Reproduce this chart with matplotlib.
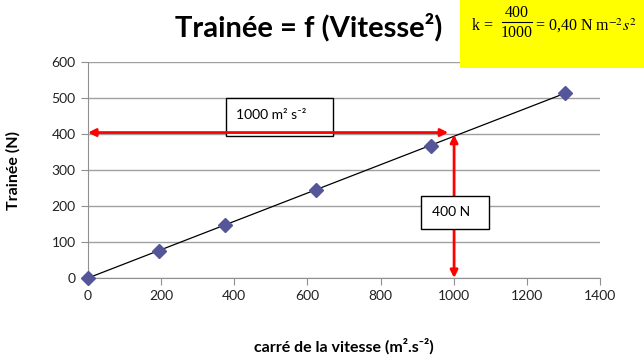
import numpy as np
import matplotlib
matplotlib.use("Agg")
import matplotlib.pyplot as plt
from matplotlib.patches import Rectangle
from matplotlib.lines import Line2D

# data
v2 = [0, 194, 375, 623, 938, 1304]        # carré de la vitesse (m2.s-2)
trainee = [0, 76, 147, 245, 368, 514]     # Trainée (N)
xticks = [0, 200, 400, 600, 800, 1000, 1200, 1400]
yticks = [0, 100, 200, 300, 400, 500, 600]

plt.rcParams['font.family'] = ['Lato', 'DejaVu Sans']
plt.rcParams['mathtext.fontset'] = 'stix'

fig = plt.figure(figsize=(6.44, 3.61), dpi=100)
ax = fig.add_axes([88 / 644, 1 - 278 / 361, 512 / 644, 216 / 361])

# linear trend through the origin
x = np.array(v2, dtype=float)
y = np.array(trainee, dtype=float)
k = (x * y).sum() / (x * x).sum()
ax.plot([0, x.max()], [0, k * x.max()], color='black', lw=0.9, zorder=3)
ax.plot(v2, trainee, 'D', color='#55559a', markersize=7, zorder=4, clip_on=False)

ax.set_xlim(0, 1400)
ax.set_ylim(0, 600)
ax.set_xticks(xticks)
ax.set_yticks(yticks)
ax.yaxis.grid(True, color='#a0a0a0', lw=1)
ax.set_axisbelow(True)
for s in ['top', 'right']:
    ax.spines[s].set_visible(False)
for s in ['left', 'bottom']:
    ax.spines[s].set_color('#909090')
ax.tick_params(colors='#909090', labelcolor='#222222', labelsize=10, length=5, pad=4)

ax.set_xlabel('carré de la vitesse (m².s⁻²)', fontsize=11.5, fontweight='bold', labelpad=26)
ax.set_ylabel('Trainée (N)', fontsize=11.5, fontweight='bold', labelpad=22)

# arrows
ax.annotate('', xy=(0, 404), xytext=(985, 404),
            arrowprops=dict(arrowstyle='<|-|>', color='#ff0000', lw=2,
                            mutation_scale=11, shrinkA=0, shrinkB=0), zorder=6)
ax.annotate('', xy=(1001, 0), xytext=(1001, 398),
            arrowprops=dict(arrowstyle='<|-|>', color='#ff0000', lw=2,
                            mutation_scale=11, shrinkA=0, shrinkB=0), zorder=4)

# label boxes
ax.add_patch(Rectangle((377, 395), 293, 104, facecolor='white', edgecolor='black',
                       lw=1, zorder=5, clip_on=False))
ax.text(405, 452, '1000 m² s⁻²', fontsize=10, va='center', ha='left', zorder=5)
ax.add_patch(Rectangle((911, 136), 186, 92, facecolor='white', edgecolor='black',
                       lw=1, zorder=5, clip_on=False))
ax.text(940, 183, '400 N', fontsize=10, va='center', ha='left', zorder=5)

# title
fig.text(309 / 644, 1 - 27 / 361, 'Trainée = f (Vitesse²)', fontsize=21,
         fontweight='bold', ha='center', va='center')

# yellow formula box
fig.patches.append(Rectangle((460 / 644, 1 - 68 / 361), 184 / 644, 68 / 361,
                             transform=fig.transFigure, facecolor='#ffff00',
                             edgecolor='none', zorder=0))
serif = dict(family='Liberation Serif', fontsize=11.5)
fig.text(472 / 644, 1 - 26 / 361, 'k =', ha='left', va='center', **serif)
fig.text(517 / 644, 1 - 13 / 361, '400', ha='center', va='center', **serif)
fig.text(517 / 644, 1 - 33 / 361, '1000', ha='center', va='center', **serif)
fig.lines.append(Line2D([502 / 644, 532 / 644], [1 - 22 / 361, 1 - 22 / 361],
                        transform=fig.transFigure, color='black', lw=0.8))
fig.text(535 / 644, 1 - 26 / 361, r'= 0,40 N m$^{-2}$$\mathit{s}^{2}$',
         ha='left', va='center', **serif)

fig.savefig('out.png', dpi=100)
